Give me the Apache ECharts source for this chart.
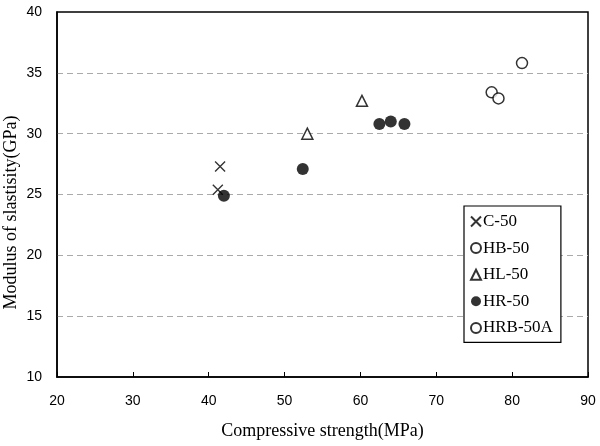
<!DOCTYPE html>
<html><head><meta charset="utf-8">
<script src="https://cdn.jsdelivr.net/npm/echarts@6/dist/echarts.min.js"></script>
<style>html,body{margin:0;padding:0;background:#fff}#c{width:600px;height:446px}</style>
</head><body><div id="c"></div>
<script>
const xTicks = [20, 30, 40, 50, 60, 70, 80, 90];
const yTicks = [10, 15, 20, 25, 30, 35, 40];
const seriesNames = ['C-50', 'HB-50', 'HL-50', 'HR-50', 'HRB-50A'];
const c50 = [[41.5, 27.3], [41.2, 25.4]];
const hb50 = [[77.3, 33.4], [78.2, 32.9]];
const hl50 = [[53.0, 30.0], [60.2, 32.7]];
const hr50 = [[42.0, 24.9], [52.4, 27.1], [62.5, 30.8], [64.0, 31.0], [65.8, 30.8]];
const hrb50a = [[81.3, 35.8]];

const cross = 'path://M0,0L10,10M10,0L0,10';
const serif = 'Liberation Serif';
const sans = 'Liberation Sans';

const styles = {
  'C-50': {symbol: cross, size: 10, itemStyle: {color: 'rgba(0,0,0,0)', borderColor: '#000', borderWidth: 1.4}},
  'HB-50': {symbol: 'circle', size: 11, itemStyle: {color: '#fff', borderColor: '#000', borderWidth: 1.5}},
  'HL-50': {symbol: 'triangle', size: 11, itemStyle: {color: '#fff', borderColor: '#000', borderWidth: 1.5}},
  'HR-50': {symbol: 'circle', size: 12, itemStyle: {color: '#000', borderColor: '#000', borderWidth: 0}},
  'HRB-50A': {symbol: 'circle', size: 11, itemStyle: {color: '#fff', borderColor: '#000', borderWidth: 1.5}}
};
const dataMap = {'C-50': c50, 'HB-50': hb50, 'HL-50': hl50, 'HR-50': hr50, 'HRB-50A': hrb50a};

const chart = echarts.init(document.getElementById('c'), null, {renderer: 'canvas'});
chart.setOption({
  animation: false,
  backgroundColor: '#fff',
  grid: {left: 57, right: 12, top: 12, bottom: 69, containLabel: false, outerBoundsMode: 'none', show: true, borderColor: '#000', borderWidth: 1.5, backgroundColor: 'transparent'},
  xAxis: {
    type: 'value', min: xTicks[0], max: xTicks[xTicks.length - 1], interval: 10,
    name: 'Compressive strength(MPa)', nameLocation: 'middle', nameGap: 45,
    nameTextStyle: {fontFamily: serif, fontSize: 18, color: '#000'},
    axisLine: {show: true, lineStyle: {color: '#000', width: 1.5}},
    axisTick: {show: true, inside: true, length: 5, lineStyle: {color: '#000'}},
    axisLabel: {fontFamily: sans, fontSize: 14, color: '#000', margin: 17},
    splitLine: {show: false}
  },
  yAxis: {
    type: 'value', min: yTicks[0], max: yTicks[yTicks.length - 1], interval: 5,
    name: 'Modulus of slastisity(GPa)', nameLocation: 'middle', nameGap: 37, nameMoveOverlap: false,
    nameTextStyle: {fontFamily: serif, fontSize: 18, color: '#000', padding: [0, 36, 0, 0]},
    axisLine: {show: true, lineStyle: {color: '#000', width: 1.5}},
    axisTick: {show: false},
    axisLabel: {fontFamily: sans, fontSize: 14, color: '#000', margin: 15},
    splitLine: {show: true, showMinLine: false, showMaxLine: false, lineStyle: {color: '#aaa', type: [6, 4], width: 1.2}}
  },
  legend: {
    data: seriesNames,
    orient: 'vertical', left: 464, top: 206,
    padding: [7, 8, 6, 6], itemGap: 9.6, itemWidth: 10, itemHeight: 10,
    borderColor: '#000', borderWidth: 1.2, backgroundColor: '#fff',
    textStyle: {fontFamily: serif, fontSize: 17, color: '#000', padding: [0, 0, 0, -3]}
  },
  series: seriesNames.map(n => ({
    name: n, type: 'scatter', data: dataMap[n],
    symbol: styles[n].symbol, symbolSize: styles[n].size,
    itemStyle: styles[n].itemStyle
  }))
});
</script></body></html>
